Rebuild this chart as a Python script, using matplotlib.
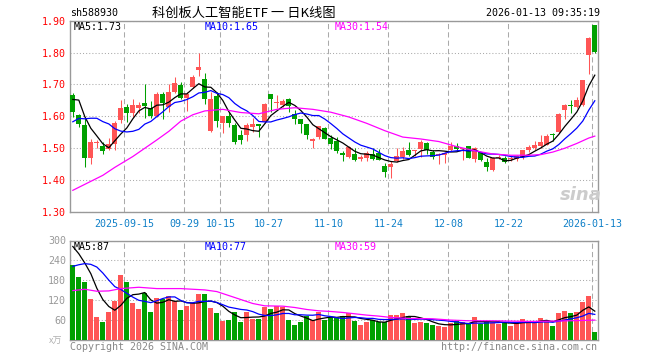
import matplotlib
matplotlib.use("Agg")
import matplotlib.pyplot as plt
import numpy as np
import pandas as pd

W, H = 660, 360

# daily candles, 2025-09-02 .. 2026-01-13 (88 trading days)
opens = [1.667, 1.603, 1.573, 1.468, 1.515, 1.507, 1.498, 1.514, 1.589, 1.629,
         1.609, 1.626, 1.643, 1.627, 1.601, 1.670, 1.630, 1.677, 1.698, 1.656,
         1.693, 1.745, 1.717, 1.554, 1.665, 1.580, 1.601, 1.573, 1.542, 1.542,
         1.566, 1.576, 1.583, 1.670, 1.643, 1.637, 1.653, 1.607, 1.591, 1.576,
         1.523, 1.536, 1.563, 1.533, 1.524, 1.484, 1.474, 1.481, 1.466, 1.469,
         1.481, 1.486, 1.445, 1.440, 1.461, 1.473, 1.494, 1.492, 1.497, 1.516,
         1.489, 1.478, 1.480, 1.494, 1.507, 1.498, 1.506, 1.465, 1.489, 1.457,
         1.431, 1.469, 1.470, 1.465, 1.465, 1.472, 1.493, 1.501, 1.508, 1.511,
         1.545, 1.550, 1.621, 1.636, 1.629, 1.636, 1.791, 1.886]
highs = [1.674, 1.607, 1.599, 1.528, 1.526, 1.521, 1.533, 1.585, 1.651, 1.638,
         1.654, 1.645, 1.700, 1.649, 1.675, 1.675, 1.702, 1.724, 1.708, 1.677,
         1.731, 1.800, 1.736, 1.677, 1.675, 1.601, 1.615, 1.578, 1.557, 1.578,
         1.594, 1.576, 1.643, 1.670, 1.667, 1.654, 1.659, 1.620, 1.591, 1.576,
         1.531, 1.570, 1.566, 1.542, 1.536, 1.490, 1.507, 1.500, 1.479, 1.492,
         1.500, 1.498, 1.453, 1.461, 1.500, 1.504, 1.518, 1.496, 1.525, 1.519,
         1.494, 1.485, 1.489, 1.518, 1.515, 1.502, 1.506, 1.504, 1.489, 1.468,
         1.473, 1.478, 1.475, 1.477, 1.480, 1.493, 1.511, 1.524, 1.543, 1.545,
         1.548, 1.610, 1.639, 1.652, 1.662, 1.715, 1.850, 1.886]
lows = [1.599, 1.568, 1.440, 1.452, 1.500, 1.483, 1.495, 1.495, 1.580, 1.583,
        1.597, 1.610, 1.596, 1.594, 1.597, 1.592, 1.615, 1.672, 1.653, 1.618,
        1.688, 1.726, 1.639, 1.552, 1.568, 1.549, 1.568, 1.512, 1.512, 1.523,
        1.552, 1.536, 1.580, 1.615, 1.625, 1.630, 1.615, 1.575, 1.549, 1.528,
        1.502, 1.528, 1.529, 1.498, 1.484, 1.461, 1.469, 1.461, 1.461, 1.460,
        1.464, 1.464, 1.411, 1.408, 1.458, 1.465, 1.476, 1.476, 1.473, 1.483,
        1.466, 1.452, 1.454, 1.491, 1.492, 1.463, 1.468, 1.457, 1.459, 1.428,
        1.429, 1.465, 1.454, 1.461, 1.461, 1.465, 1.489, 1.496, 1.501, 1.509,
        1.524, 1.548, 1.593, 1.612, 1.626, 1.634, 1.732, 1.800]
closes = [1.615, 1.575, 1.468, 1.518, 1.517, 1.492, 1.512, 1.578, 1.625, 1.611,
          1.635, 1.636, 1.633, 1.601, 1.670, 1.641, 1.677, 1.705, 1.659, 1.670,
          1.723, 1.755, 1.654, 1.654, 1.585, 1.601, 1.580, 1.521, 1.526, 1.573,
          1.576, 1.570, 1.639, 1.654, 1.645, 1.648, 1.633, 1.591, 1.575, 1.542,
          1.528, 1.570, 1.529, 1.512, 1.492, 1.479, 1.505, 1.464, 1.474, 1.484,
          1.467, 1.464, 1.427, 1.450, 1.475, 1.491, 1.480, 1.493, 1.519, 1.494,
          1.473, 1.483, 1.485, 1.506, 1.497, 1.500, 1.470, 1.502, 1.462, 1.442,
          1.470, 1.471, 1.457, 1.470, 1.477, 1.493, 1.503, 1.511, 1.520, 1.537,
          1.541, 1.608, 1.636, 1.631, 1.652, 1.715, 1.845, 1.803]
# volume, 万手
volumes = [225, 189, 174, 123, 69, 55, 84, 118, 196, 174,
           111, 93, 142, 84, 126, 123, 132, 118, 90, 102,
           112, 138, 138, 96, 81, 57, 60, 84, 54, 84,
           63, 62, 99, 92, 104, 98, 60, 44, 55, 73,
           60, 84, 60, 70, 67, 73, 80, 58, 46, 54,
           60, 55, 53, 75, 75, 81, 72, 51, 54, 51,
           45, 42, 39, 51, 58, 54, 47, 69, 49, 58,
           51, 49, 54, 43, 52, 63, 52, 54, 66, 61,
           42, 81, 87, 81, 84, 115, 132, 23]

# days before the window, estimated from where the MA5/MA10 lines start
pre_close = [1.47, 1.48, 1.50, 1.518, 1.597, 1.585, 1.728, 1.70, 1.637]
pre_vol = [140, 140, 145, 150, 235, 299, 314, 283, 289]

# MA30 lines
ma30_idx = [0, 5, 7, 10, 12, 14, 16, 18, 20, 22, 25, 28, 31, 34, 37, 40, 43, 46,
            49, 52, 55, 58, 61, 64, 67, 70, 73, 76, 78, 80, 82, 84, 86, 87]
ma30_val = [1.368, 1.415, 1.440, 1.474, 1.500, 1.526, 1.553, 1.585, 1.605, 1.617,
            1.622, 1.612, 1.608, 1.622, 1.627, 1.622, 1.613, 1.598, 1.578, 1.555,
            1.535, 1.529, 1.521, 1.505, 1.492, 1.482, 1.478, 1.478, 1.480, 1.488,
            1.500, 1.515, 1.532, 1.538]
vma30_idx = [0, 2, 4, 6, 8, 11, 14, 18, 20, 22, 24, 26, 28, 30, 32, 35, 37, 39, 41,
             43, 45, 47, 49, 51, 53, 56, 60, 63, 66, 70, 73, 76, 80, 83, 87]
vma30_val = [149, 153, 147, 148, 155, 159, 155, 155, 153, 151, 146, 134, 122, 110,
             103, 102, 98, 92, 88, 86, 83, 79, 75, 72, 68, 65, 64, 60, 58, 58, 57,
             56, 57, 58, 60]

tick_idx = [9, 19, 25, 33, 43, 53, 63, 73, 87]
tick_lab = ["2025-09-15", "09-29", "10-15", "10-27", "11-10", "11-24",
            "12-08", "12-22", "2026-01-13"]

RED = "#ff5555"
GREEN = "#00a000"
GRID = "#aaaaaa"
FRAME = "#999999"
plt.rcParams["font.family"] = ["DejaVu Sans Mono"]
FS = 7.2

fig = plt.figure(figsize=(W / 100, H / 100), dpi=100)


def px_axes(l, t, r, b):
    return fig.add_axes([l / W, 1 - b / H, (r - l) / W, (b - t) / H])


ax = px_axes(70.3, 20.7, 597.5, 212)
axv = px_axes(70.3, 240.5, 597.5, 340)

o = np.array(opens)
h = np.array(highs)
lo = np.array(lows)
c = np.array(closes)
v = np.array(volumes)
x = np.arange(len(c))
cols = np.where(c >= o, RED, GREEN)
bw = 5 / 6

cs = pd.Series(pre_close + closes)
vs = pd.Series(pre_vol + volumes)
k = len(pre_close)
ma5 = cs.rolling(5).mean().to_numpy()[k:]
ma10 = cs.rolling(10).mean().to_numpy()[k:]
vma5 = vs.rolling(5).mean().to_numpy()[k:]
vma10 = vs.rolling(10).mean().to_numpy()[k:]

# price panel
ax.vlines(x, lo, h, colors=cols, lw=0.75, zorder=3)
ax.bar(x, np.maximum(np.abs(c - o), 0.003), bottom=np.minimum(o, c), width=bw,
       color=cols, linewidth=0, zorder=3)
ax.plot(x, ma5, color="black", lw=0.9, zorder=4)
ax.plot(x, ma10, color="#0000ff", lw=0.9, zorder=4)
ax.plot(ma30_idx, ma30_val, color="#ff00ff", lw=0.9, zorder=4)

# volume panel
axv.bar(x, v, width=bw, color=cols, linewidth=0, zorder=3)
axv.plot(x, vma5, color="black", lw=0.9, zorder=4)
axv.plot(x, vma10, color="#0000ff", lw=0.9, zorder=4)
axv.plot(vma30_idx, vma30_val, color="#ff00ff", lw=0.9, zorder=4)

xl = (-0.42, 87.45)
gx = [t - 0.42 for t in tick_idx]
for a in (ax, axv):
    a.set_xlim(*xl)
    a.set_xticks(gx)
    a.xaxis.grid(True, color=GRID, lw=0.75, ls=(0, (5, 3)))
    a.yaxis.grid(True, color=GRID, lw=0.75, ls=(0, (1, 2)))
    a.set_axisbelow(True)
    for s in a.spines.values():
        s.set_color(FRAME)
        s.set_linewidth(1.0)
    a.tick_params(length=0)

ax.set_ylim(1.30, 1.90)
ax.set_yticks([1.30, 1.40, 1.50, 1.60, 1.70, 1.80, 1.90])
ax.set_yticklabels(["%.2f" % t for t in ax.get_yticks()])
ax.tick_params(axis="y", labelcolor="#ff0000", labelsize=FS, pad=3)
ax.set_xticklabels(tick_lab)
ax.tick_params(axis="x", labelcolor="#1080c8", labelsize=FS, pad=5)

axv.set_ylim(0, 300)
axv.set_yticks([60, 120, 180, 240, 300])
axv.set_yticklabels(["60", "120", "180", "240", "300"])
axv.tick_params(axis="y", labelcolor="#999999", labelsize=FS, pad=3)
axv.set_xticklabels([])


def ftext(px, py, s, **kw):
    kw.setdefault("fontsize", FS)
    kw.setdefault("va", "center")
    fig.text(px / W, 1 - py / H, s, **kw)


ftext(70, 13, "sh588930", color="black")
ftext(244, 13, "科创板人工智能ETF 一 日K线图", ha="center", fontsize=9.5,
      family=["Noto Sans CJK SC", "DejaVu Sans"])
ftext(600, 13, "2026-01-13 09:35:19", ha="right", color="black")

ftext(74, 27, "MA5:1.73", color="black")
ftext(205, 27, "MA10:1.65", color="#0000ff")
ftext(335, 27, "MA30:1.54", color="#ff00ff")

ftext(74, 247, "MA5:87", color="black")
ftext(205, 247, "MA10:77", color="#0000ff")
ftext(335, 247, "MA30:59", color="#ff00ff")

ftext(56, 341, "x万", ha="center", color="#b0b0b0", fontsize=6.5,
      family=["Noto Sans CJK SC", "DejaVu Sans"])
ftext(70, 347, "Copyright 2026 SINA.COM", color="#888888")
ftext(597, 347, "http://finance.sina.com.cn", ha="right", color="#888888")

ftext(581, 195, "sina", ha="center", color="#cccccc", fontsize=13,
      fontweight="bold", style="italic", family=["DejaVu Sans"])

fig.savefig("out.png", dpi=100)
